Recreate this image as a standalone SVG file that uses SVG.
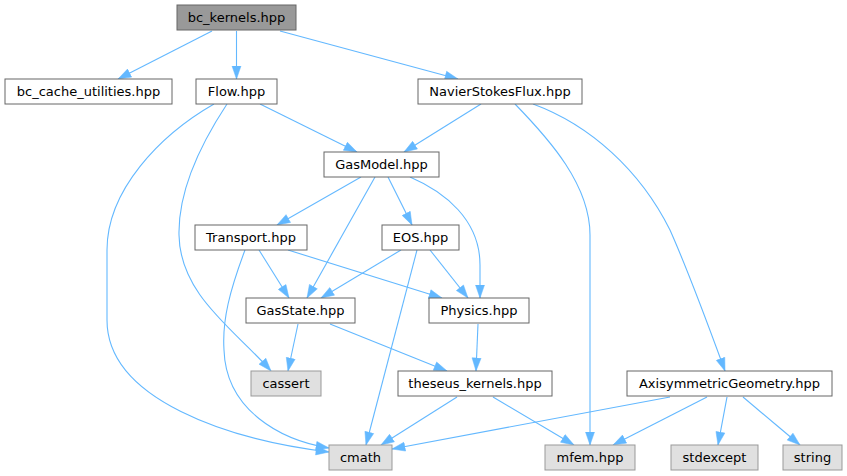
<svg xmlns="http://www.w3.org/2000/svg" width="847" height="476" viewBox="0 0 847 476">
<style>
.n rect{fill:#ffffff;stroke:#666666;stroke-width:1}
.root rect{fill:#999999;stroke:#666666;stroke-width:1}
.sys rect{fill:#e0e0e0;stroke:#999999;stroke-width:1}
text{font-family:"DejaVu Sans",sans-serif;font-size:13px;fill:#000;text-anchor:middle}
#edges path{fill:none;stroke:#63b8ff;stroke-width:1.1;marker-end:url(#ah)}
</style>
<defs>
<marker id="ah" markerUnits="userSpaceOnUse" markerWidth="14" markerHeight="11" viewBox="0 0 14 11" refX="13.5" refY="5.5" orient="auto">
<path d="M0.5,1 L13.5,5.5 L0.5,10 z" fill="#63b8ff" stroke="#63b8ff" stroke-width="0.5"/>
</marker>
</defs>
<rect x="0" y="0" width="847" height="476" fill="#ffffff"/>
<g id="edges">
<path d="M212,31 L118,79"/>
<path d="M236.5,31 L236.5,79"/>
<path d="M280,31 L458,79"/>
<path d="M260,104 L357,152"/>
<path d="M227,104 C200,145 178,190 179,235 C180,295 235,330 271,371"/>
<path d="M214,104 C160,135 107,190 107,250 L107,320 C107,400 230,440 329,452"/>
<path d="M481,104 L404,152"/>
<path d="M515,104 C550,140 590,185 590,235 L590,445"/>
<path d="M533,104 C590,125 640,170 670,230 C690,275 710,330 725,371"/>
<path d="M361,177 L277,225"/>
<path d="M375,177 L307,298"/>
<path d="M388,177 L412,225"/>
<path d="M410,177 C445,192 480,220 480,265 L480,298"/>
<path d="M259,250 L289,298"/>
<path d="M288,250 L442,298"/>
<path d="M245,250 C230,290 222,320 224,350 C226,410 280,440 329,448"/>
<path d="M401,250 L321,298"/>
<path d="M430,250 L468,298"/>
<path d="M417,250 L366,445"/>
<path d="M298,324 L288,371"/>
<path d="M330,324 L447,371"/>
<path d="M478,324 L476,371"/>
<path d="M457,397 L381,445"/>
<path d="M493,397 L574,445"/>
<path d="M670,397 L392,449"/>
<path d="M707,397 L613,445"/>
<path d="M727,397 L718,445"/>
<path d="M743,397 L800,445"/>
</g>
<g id="bc_kernels" class="root"><rect x="177" y="5" width="119" height="25"/><text x="236.5" y="22">bc_kernels.hpp</text></g>
<g id="bc_cache_utilities" class="n"><rect x="5" y="79" width="167" height="25"/><text x="88.5" y="96">bc_cache_utilities.hpp</text></g>
<g id="Flow" class="n"><rect x="196" y="79" width="81" height="25"/><text x="236.5" y="96">Flow.hpp</text></g>
<g id="NavierStokesFlux" class="n"><rect x="418" y="79" width="164" height="25"/><text x="500" y="96">NavierStokesFlux.hpp</text></g>
<g id="GasModel" class="n"><rect x="324" y="152" width="115" height="25"/><text x="381.5" y="169">GasModel.hpp</text></g>
<g id="Transport" class="n"><rect x="195" y="225" width="112" height="25"/><text x="251" y="242">Transport.hpp</text></g>
<g id="EOS" class="n"><rect x="382" y="225" width="77" height="25"/><text x="420.5" y="242">EOS.hpp</text></g>
<g id="GasState" class="n"><rect x="246" y="298" width="109" height="25"/><text x="300.5" y="315">GasState.hpp</text></g>
<g id="Physics" class="n"><rect x="429" y="298" width="100" height="25"/><text x="479" y="315">Physics.hpp</text></g>
<g id="cassert" class="sys"><rect x="251" y="371" width="70" height="25"/><text x="286" y="388">cassert</text></g>
<g id="theseus_kernels" class="n"><rect x="398" y="371" width="154" height="25"/><text x="475" y="388">theseus_kernels.hpp</text></g>
<g id="AxisymmetricGeometry" class="n"><rect x="627" y="371" width="205" height="25"/><text x="729.5" y="388">AxisymmetricGeometry.hpp</text></g>
<g id="cmath" class="sys"><rect x="329" y="445" width="63" height="25"/><text x="360.5" y="462">cmath</text></g>
<g id="mfem" class="sys"><rect x="545" y="445" width="90" height="25"/><text x="590" y="462">mfem.hpp</text></g>
<g id="stdexcept" class="sys"><rect x="671" y="445" width="87" height="25"/><text x="714.5" y="462">stdexcept</text></g>
<g id="string" class="sys"><rect x="783" y="445" width="59" height="25"/><text x="812.5" y="462">string</text></g>
</svg>
